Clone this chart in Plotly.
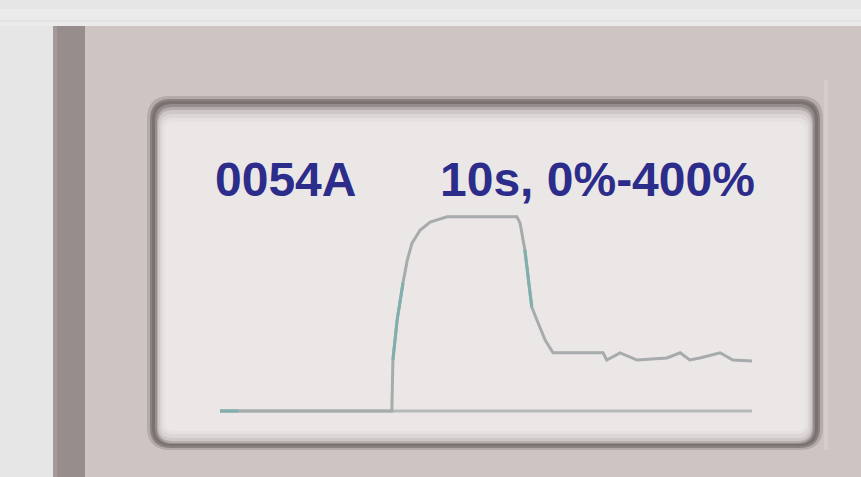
import plotly.graph_objects as go

W, H = 861, 477

# ---- data ----
time_s = [0.0, 0.35, 3.23, 3.25, 3.33, 3.44, 3.52, 3.61, 3.76, 3.95, 4.27, 5.58,
          5.64, 5.73, 5.79, 5.86, 5.98, 6.11, 6.26, 7.20, 7.27, 7.52, 7.84,
          8.40, 8.65, 8.83, 9.02, 9.40, 9.64, 10.0]
load_pct = [0, 0, 0, 99, 177, 249, 293, 326, 351, 367, 377, 377,
            365, 313, 260, 202, 171, 138, 113, 113, 99, 113, 99,
            103, 113, 99, 103, 113, 99, 97]
# segments of the trace that show a teal tint on the display
teal_ranges = [(0, 1), (3, 5), (13, 15)]
baseline_t = [0, 10]
baseline_v = [0, 0]
label_left = "0054A"
label_right = "10s, 0%-400%"
y_range = [-20, 400]
x_range = [0, 10]


def P(x, y):
    return f"{x / W:.5f},{1 - y / H:.5f}"


def rrect(x0, y0, x1, y1, r):
    return (f"M {P(x0 + r, y0)} L {P(x1 - r, y0)} Q {P(x1, y0)} {P(x1, y0 + r)} "
            f"L {P(x1, y1 - r)} Q {P(x1, y1)} {P(x1 - r, y1)} "
            f"L {P(x0 + r, y1)} Q {P(x0, y1)} {P(x0, y1 - r)} "
            f"L {P(x0, y0 + r)} Q {P(x0, y0)} {P(x0 + r, y0)} Z")


def rect(x0, y0, x1, y1, color, opacity=1.0):
    return dict(type="rect", xref="paper", yref="paper", x0=x0 / W, x1=x1 / W,
                y0=1 - y1 / H, y1=1 - y0 / H, fillcolor=color, opacity=opacity,
                line=dict(width=0), layer="below")


def rpath(x0, y0, x1, y1, r, color, opacity=1.0):
    return dict(type="path", xref="paper", yref="paper", path=rrect(x0, y0, x1, y1, r),
                fillcolor=color, opacity=opacity, line=dict(width=0), layer="below")


shapes = [
    rect(0, 9, W, 26, "#ebebeb"),
    rect(0, 20, W, 22, "#e3e3e3"),
    # bezel
    rect(53, 26, W, H, "#cec5c3"),
    rect(53, 26, 85, H, "#978d8c"),
    rect(53, 26, 57, H, "#a29998"),
    rect(824, 80, 828, 450, "#d6cecc"),
    # screen
    rpath(147, 96, 823, 450, 23, "#b3aaa9"),
    rpath(150, 99, 820, 448, 21, "#8a8281"),
    rpath(152, 101, 818, 446, 19, "#7a7271"),
    rpath(155, 104, 815, 444, 17, "#958d8c"),
    rpath(157, 107, 813, 443, 16, "#b6aead"),
    rpath(158, 110, 812, 441, 15, "#cfc8c8"),
    rpath(160, 114, 810, 438, 13, "#dcd6d6"),
    rpath(162, 118, 808, 434, 11, "#e6e1e1"),
    rpath(165, 122, 805, 431, 9, "#ebe7e7"),
]

fig = go.Figure()
fig.add_trace(go.Scatter(x=baseline_t, y=baseline_v, mode="lines",
                         line=dict(color="#b7b9b9", width=3), hoverinfo="skip",
                         showlegend=False))
fig.add_trace(go.Scatter(x=time_s, y=load_pct, mode="lines",
                         line=dict(color="#a7abab", width=3), showlegend=False))
tx, ty = [], []
for a, b in teal_ranges:
    tx += time_s[a:b + 1] + [None]
    ty += load_pct[a:b + 1] + [None]
fig.add_trace(go.Scatter(x=tx, y=ty, mode="lines",
                         line=dict(color="#7fb0ae", width=3), showlegend=False,
                         hoverinfo="skip"))

font = dict(family="Liberation Sans", size=48, color="#2c2d8a")
annotations = [
    dict(text=f"<b>{label_left}</b>", xref="paper", yref="paper",
         x=213 / W, y=1 - 179.5 / H, xanchor="left", yanchor="middle",
         showarrow=False, font=font),
    dict(text=f"<b>{label_right}</b>", xref="paper", yref="paper",
         x=438 / W, y=1 - 179.5 / H, xanchor="left", yanchor="middle",
         showarrow=False, font=font),
]

fig.update_layout(
    width=W, height=H, margin=dict(l=0, r=0, t=0, b=0),
    paper_bgcolor="#e6e6e6", plot_bgcolor="rgba(0,0,0,0)",
    shapes=shapes, annotations=annotations,
    xaxis=dict(domain=[220 / W, 752 / W], range=x_range, visible=False,
               showgrid=False, zeroline=False, fixedrange=True),
    yaxis=dict(domain=[1 - 421.3 / H, 1 - 205 / H], range=y_range, visible=False,
               showgrid=False, zeroline=False, fixedrange=True),
)

fig.write_html("out.html", config={"displayModeBar": False},
               post_script="document.body.style.margin='0';"
                           "document.body.style.overflow='hidden';")
